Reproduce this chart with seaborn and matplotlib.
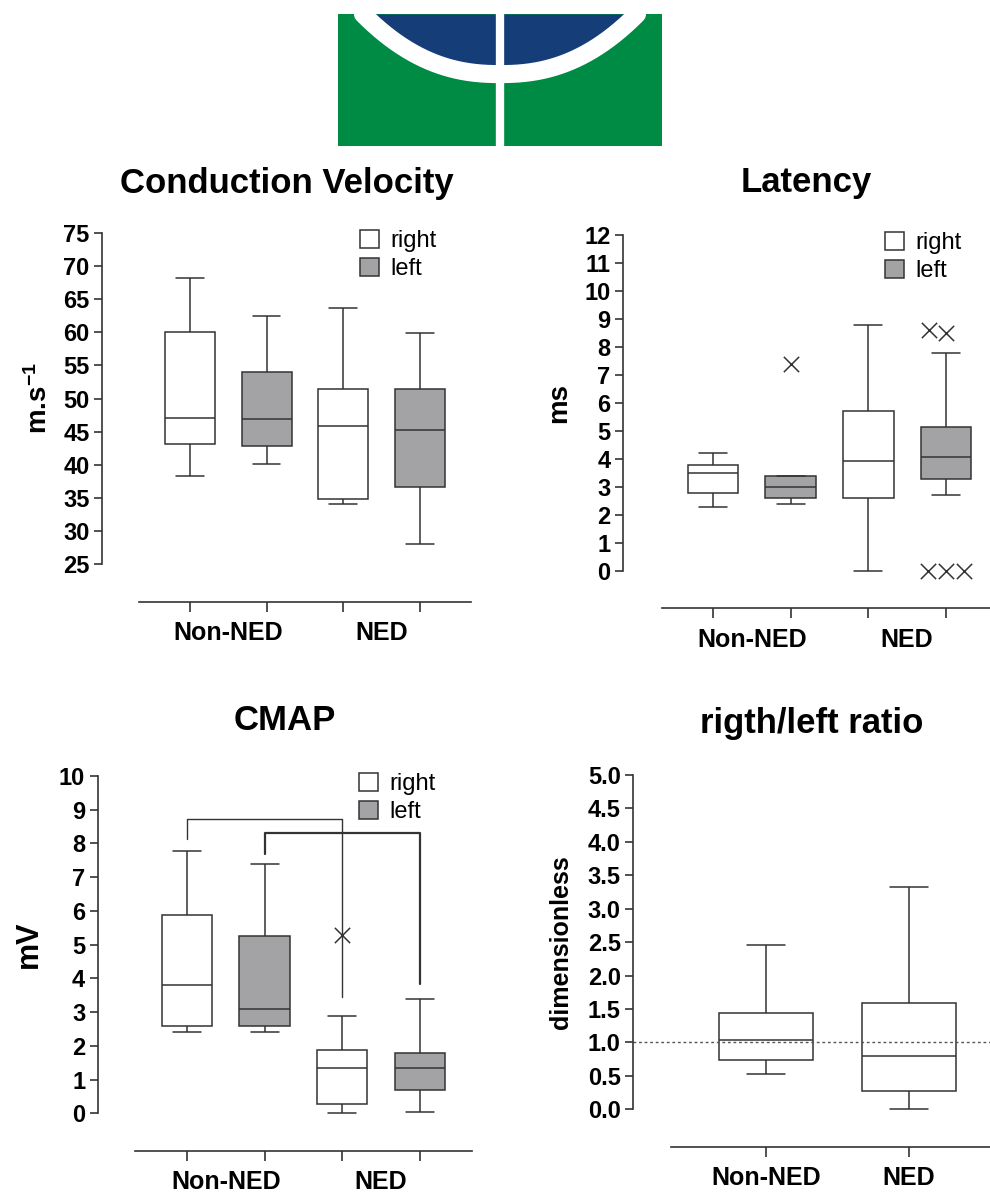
import matplotlib
matplotlib.use("Agg")
import matplotlib.pyplot as plt
import numpy as np
import pandas as pd
import seaborn as sns
from matplotlib.patches import Rectangle

# ---- data -------------------------------------------------------------
groups = ["Non-NED", "NED"]
sides = ["right", "left"]
conds = ["Non-NED right", "Non-NED left", "NED right", "NED left"]
cond_side = ["right", "left", "right", "left"]

# five-number summaries, one entry per box (order = conds)
cv_min = [38.3, 40.1, 34.1, 28.0]
cv_q1 = [43.2, 42.9, 34.9, 36.6]
cv_med = [47.0, 46.9, 45.8, 45.2]
cv_q3 = [60.0, 54.0, 51.4, 51.4]
cv_max = [68.2, 62.5, 63.7, 59.9]

lat_min = [2.3, 2.4, 0.0, 2.7]
lat_q1 = [2.8, 2.6, 2.6, 3.27]
lat_med = [3.5, 3.0, 3.94, 4.08]
lat_q3 = [3.8, 3.4, 5.7, 5.15]
lat_max = [4.2, 3.4, 8.8, 7.8]
lat_out_cond = ["Non-NED left", "NED left", "NED left", "NED left", "NED left", "NED left"]
lat_out_val = [7.4, 8.6, 8.5, 0.0, 0.0, 0.0]

cmap_min = [2.4, 2.4, 0.0, 0.03]
cmap_q1 = [2.6, 2.6, 0.28, 0.69]
cmap_med = [3.8, 3.09, 1.34, 1.34]
cmap_q3 = [5.88, 5.27, 1.88, 1.80]
cmap_max = [7.78, 7.40, 2.89, 3.40]
cmap_out_cond = ["NED right"]
cmap_out_val = [5.3]

# significance brackets on the CMAP panel
bracket_from = ["Non-NED right", "Non-NED left"]
bracket_to = ["NED right", "NED left"]
bracket_start = [8.13, 7.70]
bracket_top = [8.72, 8.31]
bracket_end = [3.46, 3.84]

ratio_min = [0.53, 0.0]
ratio_q1 = [0.73, 0.27]
ratio_med = [1.04, 0.79]
ratio_q3 = [1.44, 1.59]
ratio_max = [2.45, 3.32]

# ---- style ------------------------------------------------------------
GREY = "#a2a2a6"
LINE = "#333333"
BLUE = "#153e78"
GREEN = "#008b45"

sns.set_style("ticks")
plt.rcParams["font.family"] = ["Liberation Sans", "DejaVu Sans"]
plt.rcParams["mathtext.fontset"] = "custom"
plt.rcParams["mathtext.rm"] = "Liberation Sans:bold"
plt.rcParams["mathtext.default"] = "rm"
for key in ("text.color", "axes.labelcolor", "xtick.labelcolor", "ytick.labelcolor"):
    plt.rcParams[key] = "black"


def five_number_frame(labels, mins, q1s, meds, q3s, maxs):
    # five values per box: linear percentiles of these give back the summary
    rows = []
    for lab, *vals in zip(labels, mins, q1s, meds, q3s, maxs):
        for v in vals:
            rows.append({"cond": lab, "value": v})
    return pd.DataFrame(rows)


def paired_panel(ax, df, out_df=None):
    df["side"] = df["cond"].map(dict(zip(conds, cond_side)))
    sns.boxplot(data=df, x="cond", y="value", hue="side", order=conds,
                hue_order=sides, palette={"right": "white", "left": GREY},
                dodge=False, width=0.65, whis=(0, 100), linecolor=LINE,
                linewidth=1.1, capwidths=0.36, ax=ax)
    if out_df is not None:
        sns.swarmplot(data=out_df, x="cond", y="value", order=conds,
                      marker="x", color=LINE, size=11, linewidth=1.1,
                      legend=False, ax=ax)


def style_axes(ax, xlim, spine_from, ylim, yticks, fmt, ylabel, labelpad,
               ylabel_size=20):
    ax.set_xlim(*xlim)
    ax.set_ylim(*ylim)
    sns.despine(ax=ax)
    for side in ("left", "bottom"):
        ax.spines[side].set_color(LINE)
        ax.spines[side].set_linewidth(1.2)
    ax.spines["bottom"].set_position(("outward", 27))
    ax.spines["bottom"].set_bounds(spine_from, xlim[1])
    ax.set_yticks(yticks, labels=[fmt.format(t) for t in yticks],
                  fontweight="bold", fontsize=17)
    ax.tick_params(axis="y", length=6, width=1.2, pad=3, color=LINE)
    ax.tick_params(axis="x", which="both", length=7, width=1.2, color=LINE)
    ax.set_xlabel("")
    ax.set_ylabel(ylabel, fontsize=ylabel_size, fontweight="bold",
                  labelpad=labelpad)
    for art in ax.lines + ax.collections + ax.patches:
        art.set_clip_on(False)


def group_labels(ax):
    # tick marks under each box, group names centred between the pairs
    ax.set_xticks(range(len(conds)), minor=True)
    ax.set_xticks([0.5, 2.5], labels=groups, fontweight="bold", fontsize=18)
    ax.tick_params(axis="x", which="major", length=0, pad=14)


def place_legend(ax, x):
    sns.move_legend(ax, "upper left", bbox_to_anchor=(x, 1.01), frameon=False,
                    title=None, fontsize=17, handlelength=0.8,
                    handleheight=0.8, handletextpad=0.5, labelspacing=0.25,
                    borderpad=0, borderaxespad=0)


fig = plt.figure(figsize=(9.9, 11.92), dpi=100)

# ---- logo -------------------------------------------------------------
logo = fig.add_axes([0.3414, 0.8775, 0.3273, 0.1107])
logo.set_xlim(0, 1)
logo.set_ylim(0, 1)
logo.axis("off")
logo.add_patch(Rectangle((0, 0), 1, 1, color=GREEN, lw=0))
u = np.linspace(0.077, 0.923, 300)
v = 0.545 + 0.455 * (np.abs(u - 0.5) / 0.423) ** 2.3
logo.plot(u, v, color="white", lw=13)
logo.fill_between(u, v, 1, color=BLUE, lw=0)
logo.axvline(0.5, color="white", lw=6)

# ---- conduction velocity ---------------------------------------------
ax1 = fig.add_axes([0.1030, 0.5268, 0.3727, 0.2777])
paired_panel(ax1, five_number_frame(conds, cv_min, cv_q1, cv_med, cv_q3, cv_max))
style_axes(ax1, (-1.147, 3.665), -0.665, (25, 75), list(range(25, 80, 5)),
           "{:d}", "m.s$^{-1}$", 7)
group_labels(ax1)
ax1.set_title("Conduction Velocity", fontsize=25, fontweight="bold", pad=29)
place_legend(ax1, 0.699)

# ---- latency ----------------------------------------------------------
ax2 = fig.add_axes([0.6293, 0.5210, 0.3707, 0.2819])
lat_out = pd.DataFrame({"cond": lat_out_cond, "value": lat_out_val})
paired_panel(ax2, five_number_frame(conds, lat_min, lat_q1, lat_med, lat_q3, lat_max),
             lat_out)
style_axes(ax2, (-1.159, 3.567), -0.657, (0, 12), list(range(0, 13)),
           "{:d}", "ms", 9)
group_labels(ax2)
ax2.set_title("Latency", fontsize=25, fontweight="bold", pad=31)
place_legend(ax2, 0.714)

# ---- CMAP -------------------------------------------------------------
ax3 = fig.add_axes([0.0987, 0.0660, 0.3778, 0.2830])
cmap_out = pd.DataFrame({"cond": cmap_out_cond, "value": cmap_out_val})
paired_panel(ax3, five_number_frame(conds, cmap_min, cmap_q1, cmap_med, cmap_q3, cmap_max),
             cmap_out)
for c0, c1, y0, yt, y1, lw in zip(bracket_from, bracket_to, bracket_start,
                                  bracket_top, bracket_end, [1.0, 1.6]):
    x0, x1 = conds.index(c0), conds.index(c1)
    ax3.plot([x0, x0, x1, x1], [y0, yt, yt, y1], color=LINE, lw=lw)
style_axes(ax3, (-1.151, 3.670), -0.670, (0, 10), list(range(0, 11)),
           "{:d}", "mV", 11, ylabel_size=22)
group_labels(ax3)
ax3.set_title("CMAP", fontsize=25, fontweight="bold", pad=33)
place_legend(ax3, 0.699)

# ---- right/left ratio -------------------------------------------------
ax4 = fig.add_axes([0.6397, 0.0694, 0.3603, 0.2805])
ratio_df = five_number_frame(groups, ratio_min, ratio_q1, ratio_med, ratio_q3, ratio_max)
sns.boxplot(data=ratio_df, x="cond", y="value", order=groups, color="white",
            width=0.66, whis=(0, 100), linecolor=LINE, linewidth=1.1,
            capwidths=0.26, ax=ax4)
ax4.axhline(1.0, color="#555555", lw=1.0, ls=(0, (2, 2)))
style_axes(ax4, (-0.928, 1.566), -0.664, (0, 5), list(np.arange(0, 5.01, 0.5)),
           "{:.1f}", "dimensionless", 11, ylabel_size=18)
ax4.set_xticks(range(len(groups)), labels=groups, fontweight="bold", fontsize=18)
ax4.tick_params(axis="x", pad=7)
ax4.set_title("rigth/left ratio", fontsize=25, fontweight="bold", pad=30)

fig.savefig("out.png", dpi=100)
